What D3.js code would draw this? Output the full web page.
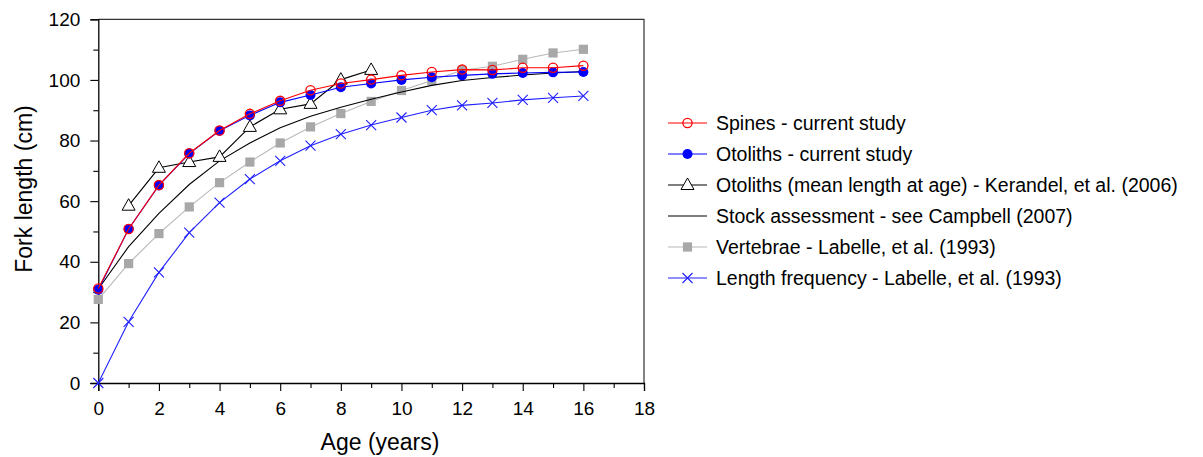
<!DOCTYPE html>
<html>
<head>
<meta charset="utf-8">
<script src="https://cdn.jsdelivr.net/npm/d3@7/dist/d3.min.js"></script>
<style>
  body { margin: 0; background: #fff; }
  svg text { font-family: "Liberation Sans", Arial, sans-serif; fill: #000; }
</style>
</head>
<body>
<div id="chart"></div>
<script>
// ages 0..16
var ages = d3.range(0, 17);
var spines = [31.2, 50.8, 65.3, 75.8, 83.3, 88.8, 93.1, 96.6, 98.8, 100.1, 101.5, 102.6, 103.4, 103.3, 104.0, 104.0, 104.7];
var otoliths = [30.8, 50.8, 65.2, 75.7, 83.2, 88.3, 92.6, 95.0, 97.6, 98.8, 100.0, 100.9, 101.5, 102.0, 102.3, 102.5, 102.6];
var kerandelAges = [1, 2, 3, 4, 5, 6, 7, 8, 9];
var kerandel = [58.5, 71.0, 72.9, 74.6, 84.5, 90.3, 92.1, 100.1, 103.3];
var stock = [31.0, 45.0, 56.0, 65.5, 73.3, 79.2, 84.2, 88.0, 91.0, 93.6, 96.0, 98.2, 99.8, 100.8, 101.6, 102.3, 102.8];
var vertebrae = [27.6, 39.4, 49.3, 58.1, 66.1, 72.9, 79.2, 84.5, 88.9, 92.9, 96.5, 99.8, 103.2, 104.5, 106.8, 108.9, 110.1];
var lengthFreq = [0, 20.2, 36.5, 49.6, 59.5, 67.3, 73.3, 78.3, 82.1, 85.1, 87.6, 90.0, 91.6, 92.4, 93.4, 94.1, 94.7];

var xTicks = d3.range(0, 19, 2);
var yTicks = d3.range(0, 121, 20);

var series = [
  { name: "Length frequency - Labelle, et al. (1993)", x: ages, y: lengthFreq, color: "#1f1fff", marker: "cross" },
  { name: "Vertebrae - Labelle, et al. (1993)", x: ages, y: vertebrae, color: "#b8b8b8", fill: "#a8a8a8", marker: "square" },
  { name: "Stock assessment - see Campbell (2007)", x: ages, y: stock, color: "#000", marker: "none" },
  { name: "Otoliths (mean length at age) - Kerandel, et al. (2006)", x: kerandelAges, y: kerandel, color: "#000", marker: "triangle" },
  { name: "Otoliths - current study", x: ages, y: otoliths, color: "#0000ff", marker: "dot" },
  { name: "Spines - current study", x: ages, y: spines, color: "#ff0000", marker: "circle" }
];

var width = 1203, height = 457;
var svg = d3.select("#chart").append("svg")
    .attr("width", width)
    .attr("height", height);

var x = d3.scaleLinear().domain([0, 18]).range([98.3, 644]);
var y = d3.scaleLinear().domain([0, 120]).range([383, 19.3]);

// frame (top and right)
svg.append("path")
    .attr("d", "M" + x(0) + "," + y(120) + "H" + x(18) + "V" + y(0))
    .attr("fill", "none")
    .attr("stroke", "#333")
    .attr("stroke-width", 1.2);

svg.append("g")
    .attr("transform", "translate(0," + y(0) + ")")
    .call(d3.axisBottom(x).tickValues(xTicks).tickSize(8).tickPadding(11).tickFormat(d3.format("d")));
svg.append("g")
    .attr("transform", "translate(0," + y(0) + ")")
    .call(d3.axisBottom(x).tickValues(d3.range(1, 18, 2)).tickSize(5).tickFormat(""))
    .call(function(g) { g.select(".domain").remove(); });

svg.append("g")
    .attr("transform", "translate(" + x(0) + ",0)")
    .call(d3.axisLeft(y).tickValues(yTicks).tickSize(8).tickPadding(10).tickFormat(d3.format("d")));
svg.append("g")
    .attr("transform", "translate(" + x(0) + ",0)")
    .call(d3.axisLeft(y).tickValues(d3.range(10, 120, 20)).tickSize(5).tickFormat(""))
    .call(function(g) { g.select(".domain").remove(); });

svg.selectAll(".domain").attr("stroke", "#000").attr("stroke-width", 1.3);
svg.selectAll(".tick line").attr("stroke", "#000").attr("stroke-width", 1.1);
svg.selectAll(".tick text").attr("font-size", 19).attr("font-family", "Liberation Sans, Arial, sans-serif");

svg.append("text")
    .attr("x", 380)
    .attr("y", 450)
    .attr("text-anchor", "middle")
    .attr("font-size", 23)
    .text("Age (years)");

svg.append("text")
    .attr("transform", "translate(31.5,189) rotate(-90)")
    .attr("text-anchor", "middle")
    .attr("font-size", 23)
    .text("Fork length (cm)");

function drawMarker(g, s, cx, cy) {
  if (s.marker === "circle") {
    g.append("circle").attr("cx", cx).attr("cy", cy).attr("r", 4.6)
        .attr("fill", "none").attr("stroke", s.color).attr("stroke-width", 1.3);
  } else if (s.marker === "dot") {
    g.append("circle").attr("cx", cx).attr("cy", cy).attr("r", 5)
        .attr("fill", s.color);
  } else if (s.marker === "triangle") {
    g.append("path")
        .attr("d", "M" + cx + "," + (cy - 7) + "L" + (cx + 6.5) + "," + (cy + 4.5) + "L" + (cx - 6.5) + "," + (cy + 4.5) + "Z")
        .attr("fill", "#fff").attr("stroke", "#000").attr("stroke-width", 1);
  } else if (s.marker === "square") {
    g.append("rect").attr("x", cx - 4.6).attr("y", cy - 4.6).attr("width", 9.2).attr("height", 9.2)
        .attr("fill", s.fill);
  } else if (s.marker === "cross") {
    g.append("path")
        .attr("d", "M" + (cx - 5) + "," + (cy - 5) + "L" + (cx + 5) + "," + (cy + 5) +
                   "M" + (cx - 5) + "," + (cy + 5) + "L" + (cx + 5) + "," + (cy - 5))
        .attr("stroke", s.color).attr("stroke-width", 1.1);
  }
}

var line = d3.line()
    .x(function(d) { return x(d[0]); })
    .y(function(d) { return y(d[1]); });

series.forEach(function(s) {
  var pts = s.x.map(function(a, i) { return [a, s.y[i]]; });
  var g = svg.append("g");
  g.append("path")
      .datum(pts)
      .attr("d", line)
      .attr("fill", "none")
      .attr("stroke", s.color)
      .attr("stroke-width", 1.1);
  pts.forEach(function(p) { drawMarker(g, s, x(p[0]), y(p[1])); });
});

// legend, in reverse drawing order
var legend = svg.append("g");
series.slice().reverse().forEach(function(s, i) {
  var ly = 123 + i * 31;
  var g = legend.append("g");
  g.append("line")
      .attr("x1", 668).attr("x2", 707).attr("y1", ly).attr("y2", ly)
      .attr("stroke", s.color).attr("stroke-width", 1.1);
  drawMarker(g, s, 687.5, ly);
  g.append("text")
      .attr("x", 716)
      .attr("y", ly)
      .attr("dy", "0.35em")
      .attr("font-size", 19.5)
      .text(s.name);
});
</script>
</body>
</html>
